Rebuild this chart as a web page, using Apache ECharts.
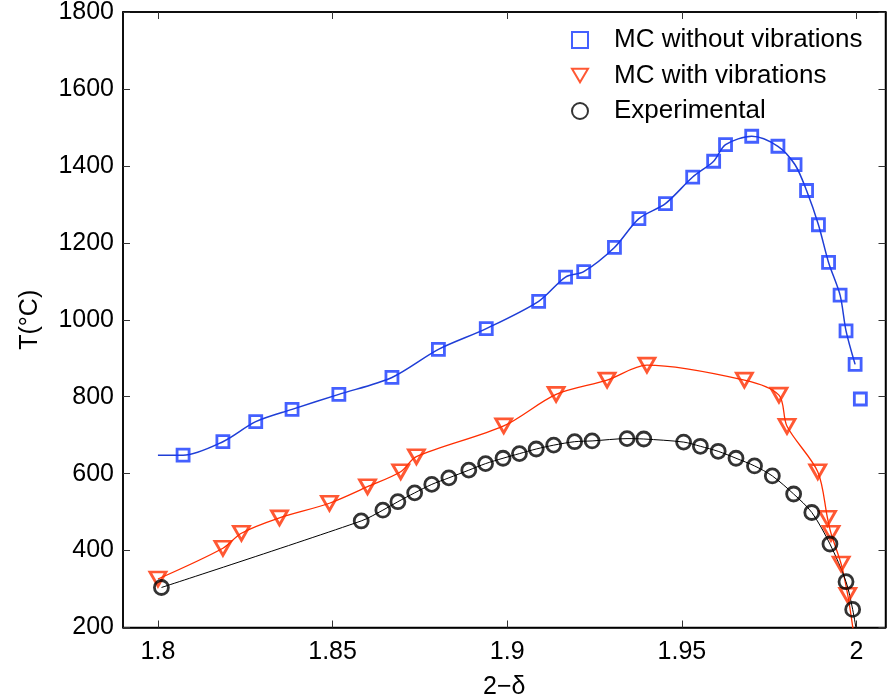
<!DOCTYPE html>
<html>
<head>
<meta charset="utf-8">
<script src="https://cdn.jsdelivr.net/npm/echarts@6/dist/echarts.min.js"></script>
<style>html,body{margin:0;padding:0;background:#fff}#c{width:887px;height:698px}</style>
</head>
<body>
<div id="c"></div>
<script>
// ---- data ----
const xTicks = [1.8, 1.85, 1.9, 1.95, 2];
const seriesNames = ['MC without vibrations', 'MC with vibrations', 'Experimental'];

const blueX = [1.8072,1.8186,1.828,1.8384,1.8518,1.867,1.8803,1.894,1.909,1.9167,1.9219,1.9307,1.9377,1.9453,1.9531,1.9591,1.9625,1.97,1.9775,1.9824,1.9857,1.9891,1.992,1.9953,1.997,1.9996,2.0011];
const blueY = [648,683,735,767,806,850,923,977,1048,1111,1125,1188,1263,1302,1371,1412,1455,1477,1451,1403,1336,1247,1149,1064,971,884,794];
const blueCurveX = [1.8,1.8072,1.8186,1.828,1.8384,1.8518,1.867,1.8803,1.894,1.909,1.9167,1.9219,1.9307,1.9377,1.9453,1.9531,1.9591,1.9625,1.97,1.9775,1.9824,1.9857,1.9891,1.992,1.9953,1.997,1.9996];
const blueCurveY = [648,648,683,735,767,806,850,923,977,1048,1111,1125,1188,1263,1302,1371,1412,1455,1477,1451,1403,1336,1247,1149,1064,971,884];

const redX = [1.8,1.8186,1.8239,1.8348,1.8491,1.86,1.8695,1.874,1.899,1.914,1.9286,1.94,1.9679,1.9778,1.9801,1.9889,1.9917,1.9927,1.9956,1.9975];
const redY = [326,406,445,485,523,566,605,644,724,806,843,882,843,804,723,605,484,445,365,284];
const redCurveX = [1.8,1.8186,1.8239,1.8348,1.8491,1.86,1.8695,1.874,1.899,1.914,1.9286,1.94,1.9679,1.9778,1.9801,1.9889,1.9917,1.9927,1.9956,1.9975,1.9991];
const redCurveY = [326,406,445,485,523,566,605,644,724,806,843,882,843,804,723,605,484,445,365,284,190];

const blackX = [1.801,1.8582,1.8644,1.8687,1.8735,1.8784,1.8833,1.889,1.8938,1.8988,1.9035,1.9083,1.9133,1.9193,1.9243,1.9343,1.9391,1.9505,1.9553,1.9604,1.9655,1.9708,1.9759,1.982,1.9872,1.9924,1.997,1.9989];
const blackY = [304,477,505,527,550,572,589,609,626,640,652,664,674,683,685,691,690,682,671,658,640,620,594,547,499,417,319,247];
const blackCurveX = [1.801,1.8582,1.8644,1.8687,1.8735,1.8784,1.8833,1.889,1.8938,1.8988,1.9035,1.9083,1.9133,1.9193,1.9243,1.9343,1.9391,1.9505,1.9553,1.9604,1.9655,1.9708,1.9759,1.982,1.9872,1.9924,1.997,1.9989,2.0];
const blackCurveY = [304,477,505,527,550,572,589,609,626,640,652,664,674,683,685,691,690,682,671,658,640,620,594,547,499,417,319,247,190];

const zip = (xs, ys) => xs.map((x, i) => [x, ys[i]]);

const FONT = "'Liberation Sans', Arial, Helvetica, sans-serif";
const BLUE = '#1538ff', BLUE_LINE = '#1f3ed6';
const RED = '#ff2e00', RED_LINE = '#ff2e00';
const BLACK = '#000000';

const xCommon = {
  type: 'value', min: 1.79, max: 2.0083,
  splitLine: { show: false },
  axisLine: { show: true, onZero: false, lineStyle: { color: '#000', width: 1.5 } },
  axisTick: { show: true, inside: true, length: 7, customValues: xTicks, lineStyle: { color: '#333', width: 1 } }
};
const yCommon = {
  type: 'value', min: 200, max: 1800, interval: 200,
  splitLine: { show: false },
  axisLine: { show: true, onZero: false, lineStyle: { color: '#000', width: 1.5 } },
  axisTick: { show: true, inside: true, length: 7, lineStyle: { color: '#333', width: 1 } }
};

const downTri = 'path://M0,0 L20,0 L10,17 Z';

const chart = echarts.init(document.getElementById('c'), null, { renderer: 'canvas' });
chart.setOption({
  animation: false,
  backgroundColor: '#fff',
  grid: { left: 123, right: 1.5, top: 12, bottom: 70.5, containLabel: false, outerBoundsMode: 'none',
    show: true, borderColor: '#000', borderWidth: 1.5, backgroundColor: 'transparent' },
  xAxis: [
    Object.assign({}, xCommon, {
      position: 'bottom',
      name: '2\u2212\u03b4', nameLocation: 'middle', nameGap: 47,
      nameTextStyle: { fontFamily: FONT, fontSize: 25, color: '#000' },
      axisLabel: { show: true, customValues: xTicks, margin: 12, fontFamily: FONT, fontSize: 25, color: '#000',
        formatter: v => String(+(+v).toFixed(2)) }
    }),
    Object.assign({}, xCommon, { position: 'top', axisLabel: { show: false } })
  ],
  yAxis: [
    Object.assign({}, yCommon, {
      position: 'left',
      name: 'T(\u00b0C)', nameLocation: 'middle', nameGap: 80, nameRotate: 90,
      nameTextStyle: { fontFamily: FONT, fontSize: 25, color: '#000' },
      axisLabel: { show: true, margin: 9, fontFamily: FONT, fontSize: 25, color: '#000',
        formatter: v => String(v) }
    }),
    Object.assign({}, yCommon, { position: 'right', axisLabel: { show: false } })
  ],
  legend: {
    data: [
      { name: seriesNames[0], icon: 'rect' },
      { name: seriesNames[1], icon: downTri },
      { name: seriesNames[2], icon: 'circle' }
    ],
    orient: 'vertical', left: 566, top: 22,
    itemWidth: 16, itemHeight: 16, itemGap: 9.5,
    textStyle: { fontFamily: FONT, fontSize: 26, color: '#000', padding: [0, 0, 0, 21] },
    selectedMode: false
  },
  series: [
    { name: 'blue fit', type: 'line', data: zip(blueCurveX, blueCurveY), smooth: 0.3, showSymbol: false,
      lineStyle: { color: BLUE_LINE, width: 1.5 }, silent: true, z: 2 },
    { name: 'red fit', type: 'line', data: zip(redCurveX, redCurveY), smooth: 0.3, showSymbol: false,
      lineStyle: { color: RED_LINE, width: 1.3 }, silent: true, z: 2 },
    { name: 'black fit', type: 'line', data: zip(blackCurveX, blackCurveY), smooth: 0.3, showSymbol: false,
      lineStyle: { color: BLACK, width: 1 }, silent: true, z: 2 },
    { name: seriesNames[0], type: 'scatter', data: zip(blueX, blueY), symbol: 'rect', symbolSize: 12,
      itemStyle: { color: 'rgba(0,0,0,0)', borderColor: BLUE, borderWidth: 2.8 }, z: 3 },
    { name: seriesNames[1], type: 'scatter', data: zip(redX, redY), symbol: 'triangle', symbolRotate: 180, symbolSize: [16, 14],
      itemStyle: { color: 'rgba(0,0,0,0)', borderColor: RED, borderWidth: 2.8 }, z: 3 },
    { name: seriesNames[2], type: 'scatter', data: zip(blackX, blackY), symbol: 'circle', symbolSize: 14,
      itemStyle: { color: 'rgba(0,0,0,0)', borderColor: BLACK, borderWidth: 2.8 }, z: 3 }
  ]
});
</script>
</body>
</html>
